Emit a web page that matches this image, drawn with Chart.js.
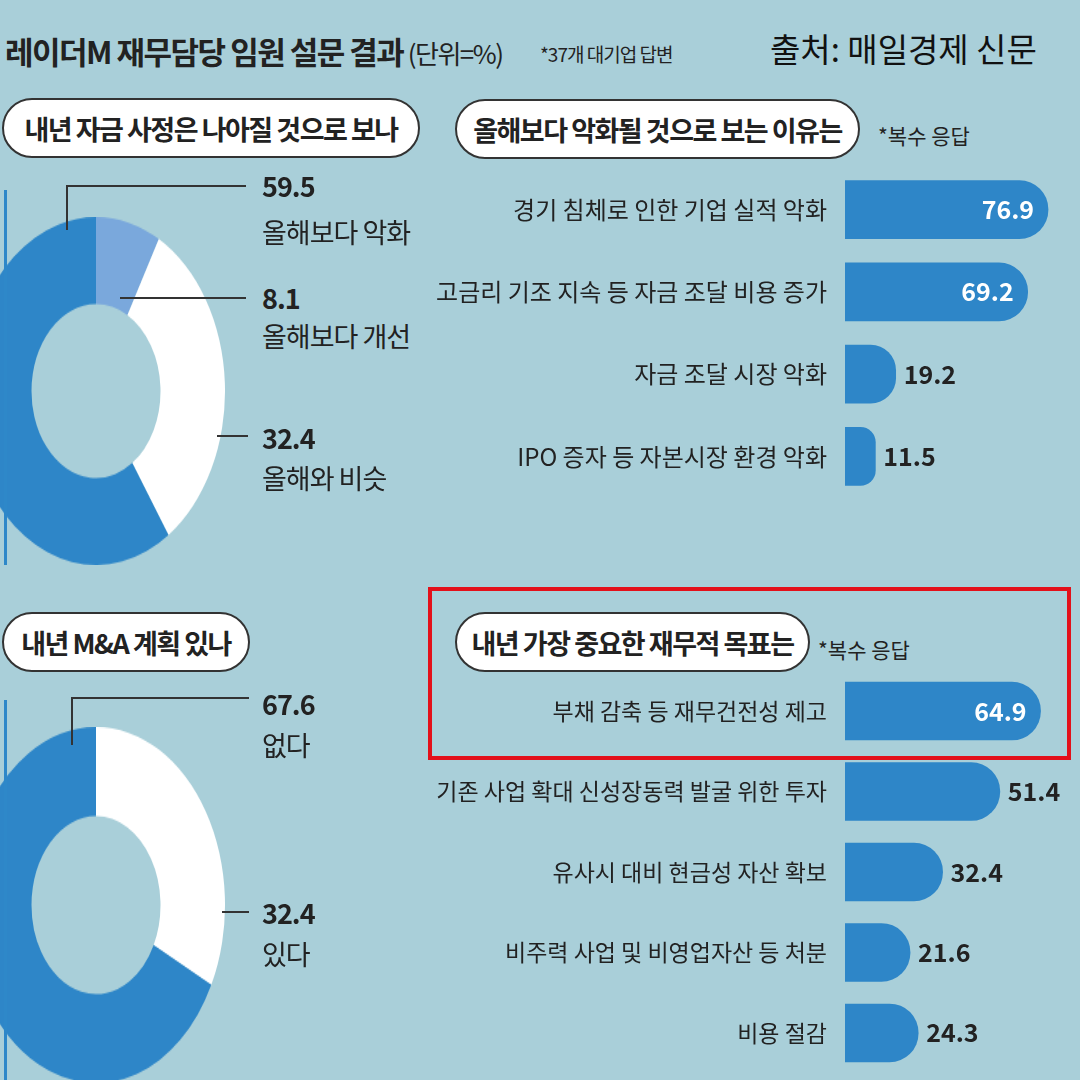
<!DOCTYPE html>
<html><head><meta charset="utf-8">
<script src="https://cdn.jsdelivr.net/npm/chart.js@4"></script>
<style>
body{margin:0;width:1080px;height:1080px;overflow:hidden;background:#a9cfd9;position:relative;font-family:"Noto Sans CJK KR",sans-serif;color:#222}
.abs{position:absolute;white-space:nowrap}
.pill{position:absolute;background:#fff;border:2px solid #333;border-radius:32px;font-size:27px;font-weight:700;display:flex;align-items:center;justify-content:center;box-sizing:border-box;letter-spacing:-1.5px;white-space:nowrap}
.ln{position:absolute;background:#333}
.num{position:absolute;font-size:27px;font-weight:700;letter-spacing:-1px;line-height:1}
.lab{position:absolute;font-size:27px;line-height:1;letter-spacing:-1px;white-space:nowrap}
canvas{position:absolute}
.squash{position:absolute;transform-origin:0 0}
.squash canvas{position:static}
</style></head><body>
<div class="abs" style="left:5px;top:28px;font-size:31px;font-weight:700;letter-spacing:-1.5px">레이더M 재무담당 임원 설문 결과<span style="font-size:26px;font-weight:400"> (단위=%)</span></div>
<div class="abs" style="left:540px;top:40px;font-size:19px;letter-spacing:-1px">*37개 대기업 답변</div>
<div class="abs" style="left:770px;top:24px;font-size:33px;color:#111">출처: 매일경제 신문</div>

<div class="pill" style="left:2px;top:98px;width:418px;height:60px">내년 자금 사정은 나아질 것으로 보나</div>
<div class="pill" style="left:455px;top:99px;width:405px;height:60px">올해보다 악화될 것으로 보는 이유는</div>
<div class="abs" style="left:878px;top:120px;font-size:21px">*복수 응답</div>
<div class="pill" style="left:2px;top:612px;width:248px;height:60px">내년 M&amp;A 계획 있나</div>
<div class="pill" style="left:455px;top:612px;width:355px;height:60px">내년 가장 중요한 재무적 목표는</div>
<div class="abs" style="left:818px;top:634px;font-size:21px">*복수 응답</div>

<div class="squash" style="left:-33px;top:217px;transform:scaleY(1.349)"><canvas id="d1" width="258" height="258"></canvas></div>
<div class="squash" style="left:-33px;top:727px;transform:scaleY(1.38)"><canvas id="d2" width="258" height="258"></canvas></div>
<div class="abs" style="left:4px;top:190px;width:3px;height:375px;background:#2e88c9"></div>
<div class="abs" style="left:4px;top:700px;width:3px;height:380px;background:#2e88c9"></div>
<canvas id="b1" width="650" height="378" style="left:430px;top:144px"></canvas>
<canvas id="b2" width="650" height="450" style="left:430px;top:647px"></canvas>
<div class="abs" style="left:428px;top:587px;width:643px;height:173px;border:4px solid #e3101a;box-sizing:border-box"></div>

<div class="ln" style="left:66px;top:185px;width:2px;height:45px"></div>
<div class="ln" style="left:66px;top:185px;width:180px;height:2px"></div>
<div class="num" style="left:262px;top:172px">59.5</div><div class="lab" style="left:262px;top:218px">올해보다 악화</div>
<div class="ln" style="left:120px;top:297px;width:126px;height:2px"></div>
<div class="num" style="left:262px;top:284px">8.1</div><div class="lab" style="left:262px;top:322px">올해보다 개선</div>
<div class="ln" style="left:217px;top:435px;width:31px;height:2px"></div>
<div class="num" style="left:262px;top:424px">32.4</div><div class="lab" style="left:262px;top:464px">올해와 비슷</div>

<div class="ln" style="left:71px;top:697px;width:2px;height:48px"></div>
<div class="ln" style="left:71px;top:697px;width:178px;height:2px"></div>
<div class="num" style="left:262px;top:690px">67.6</div><div class="lab" style="left:262px;top:731px">없다</div>
<div class="ln" style="left:222px;top:911px;width:27px;height:2px"></div>
<div class="num" style="left:262px;top:899px">32.4</div><div class="lab" style="left:262px;top:940px">있다</div>

<script>
const blue = '#2e86c8';
const donut1Labels = ['올해보다 개선','올해와 비슷','올해보다 악화'];
const donut1Values = [8.1, 32.4, 59.5];
const donut2Labels = ['있다','없다'];
const donut2Values = [32.4, 67.6];
const reasonLabels = ['경기 침체로 인한 기업 실적 악화','고금리 기조 지속 등 자금 조달 비용 증가','자금 조달 시장 악화','IPO 증자 등 자본시장 환경 악화'];
const reasonValues = [76.9, 69.2, 19.2, 11.5];
const goalLabels = ['부채 감축 등 재무건전성 제고','기존 사업 확대 신성장동력 발굴 위한 투자','유사시 대비 현금성 자산 확보','비주력 사업 및 비영업자산 등 처분','비용 절감'];
const goalValues = [64.9, 51.4, 32.4, 21.6, 24.3];

Chart.defaults.font.family = '"Noto Sans CJK KR", sans-serif';

function donut(id, labels, values, colors){
  new Chart(document.getElementById(id), {
    type:'doughnut',
    data:{labels:labels, datasets:[{data:values, backgroundColor:colors, borderWidth:0}]},
    options:{responsive:false, animation:false, cutout:'50%',
      plugins:{legend:{display:false}, tooltip:{enabled:false}}}
  });
}
donut('d1', donut1Labels, donut1Values, ['#7aa8dc','#ffffff',blue]);
donut('d2', donut2Labels, donut2Values, ['#ffffff',blue]);

const valueLabels = {
  id:'valueLabels',
  afterDatasetsDraw(chart){
    const ctx = chart.ctx;
    const meta = chart.getDatasetMeta(0);
    ctx.save();
    ctx.font = 'bold 25px "Noto Sans CJK KR"';
    ctx.textBaseline = 'middle';
    meta.data.forEach((bar, i) => {
      const v = chart.data.datasets[0].data[i];
      if (v > 60) { ctx.fillStyle='#fff'; ctx.textAlign='right'; ctx.fillText(v.toFixed(1), bar.x - 14, bar.y); }
      else { ctx.fillStyle='#222'; ctx.textAlign='left'; ctx.fillText(v.toFixed(1), bar.x + 8, bar.y); }
    });
    ctx.restore();
  }
};

function bars(id, labels, values, max, fs){
  new Chart(document.getElementById(id), {
    type:'bar',
    data:{labels:labels, datasets:[{data:values, backgroundColor:blue, barThickness:58,
      borderRadius:{topRight:29, bottomRight:29, topLeft:0, bottomLeft:0}, borderSkipped:false}]},
    options:{indexAxis:'y', responsive:false, animation:false,
      layout:{padding:0},
      scales:{
        x:{min:0, max:max, display:false},
        y:{grid:{display:false}, border:{display:false},
           ticks:{color:'#222', font:{size:fs}, padding:10},
           afterFit(s){ s.width = 415; }}
      },
      plugins:{legend:{display:false}, tooltip:{enabled:false}}},
    plugins:[valueLabels]
  });
}
bars('b1', reasonLabels, reasonValues, 89, 24);
bars('b2', goalLabels, goalValues, 78, 23);
</script>
</body></html>
